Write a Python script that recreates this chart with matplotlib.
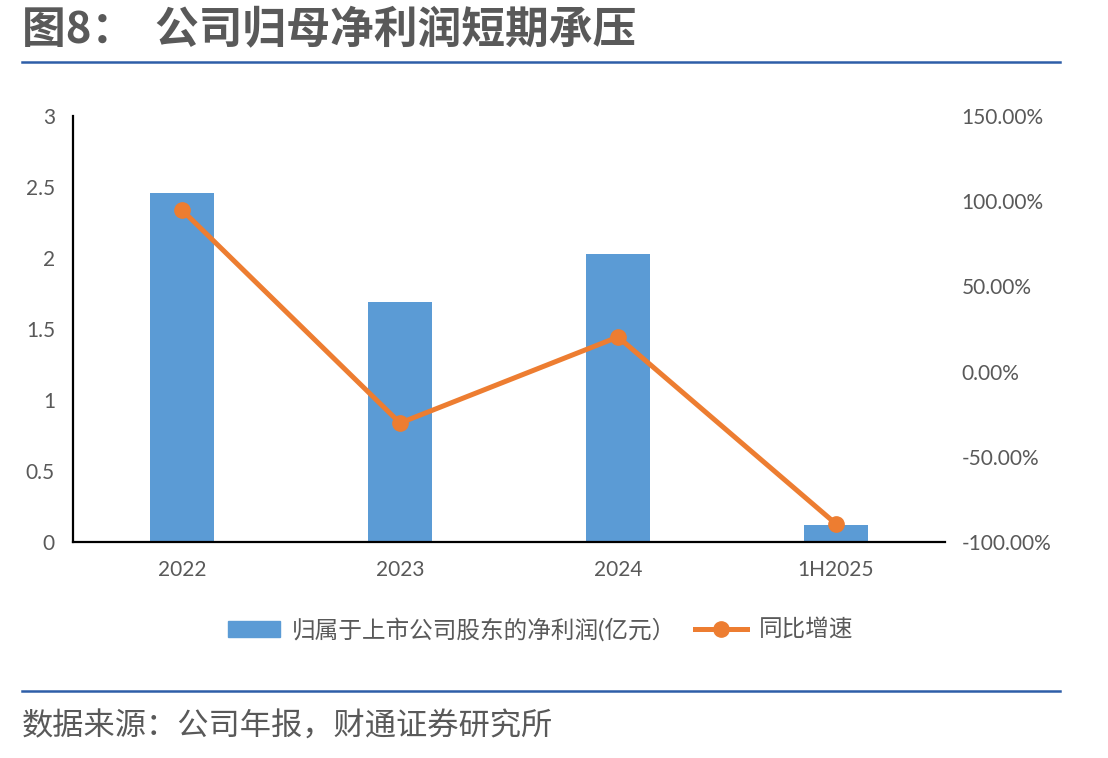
import matplotlib.pyplot as plt
import numpy as np
from matplotlib.lines import Line2D
from matplotlib.patches import Patch

plt.rcParams['font.family'] = ['Lato', 'Noto Sans CJK SC', 'DejaVu Sans']

# data
categories = ['2022', '2023', '2024', '1H2025']
profit = [2.46, 1.69, 2.03, 0.12]          # 归属于上市公司股东的净利润(亿元)
growth = [94.8, -30.2, 20.3, -89.4]        # 同比增速, %

left_ticks = [0, 0.5, 1, 1.5, 2, 2.5, 3]
left_labels = ['0', '0.5', '1', '1.5', '2', '2.5', '3']
right_ticks = [-100, -50, 0, 50, 100, 150]

gray = '#595959'
blue = '#5B9BD5'
orange = '#ED7D31'
rule = '#2E5EA8'

fig = plt.figure(figsize=(11.08, 7.58), dpi=100)
ax = fig.add_axes([0.0659, 0.2850, 0.7870, 0.5620])

x = np.arange(len(categories))
ax.bar(x, profit, width=0.29, color=blue, zorder=2)
ax.set_xlim(-0.5, len(categories) - 0.5)
ax.set_ylim(0, 3)
ax.set_yticks(left_ticks)
ax.set_yticklabels(left_labels)
ax.set_xticks(x)
ax.set_xticklabels(categories)
ax.tick_params(axis='y', length=0, pad=13, labelsize=15, labelcolor=gray)
ax.tick_params(axis='x', length=0, pad=13, labelsize=15, labelcolor=gray)
for s in ['top', 'right']:
    ax.spines[s].set_visible(False)
for s in ['left', 'bottom']:
    ax.spines[s].set_linewidth(1.6)
    ax.spines[s].set_color('black')

ax2 = ax.twinx()
ax2.plot(x, growth, color=orange, lw=3.6, marker='o', ms=11, zorder=3)
ax2.set_ylim(-100, 150)
ax2.set_yticks(right_ticks)
ax2.set_yticklabels(['%.2f%%' % t for t in right_ticks])
ax2.tick_params(axis='y', length=0, pad=12, labelsize=15, labelcolor=gray)
for s in ['top', 'right', 'left', 'bottom']:
    ax2.spines[s].set_visible(False)

handles = [Patch(color=blue),
           Line2D([0], [0], color=orange, lw=3.6, marker='o', ms=11)]
labels = ['归属于上市公司股东的净利润(亿元）', '同比增速']
fig.legend(handles, labels, loc='center', bbox_to_anchor=(0.488, 0.170),
           ncol=2, frameon=False, fontsize=17, labelcolor=gray,
           handlelength=2.2, handletextpad=0.5, columnspacing=0.8)

# title, rules and source note
fig.text(0.020, 0.962, '图8：  公司归母净利润短期承压', fontsize=31.5, fontweight='bold',
         color=gray, ha='left', va='center', family=['Noto Sans CJK SC', 'DejaVu Sans'])
fig.add_artist(Line2D([0.020, 0.957], [0.918, 0.918], color=rule, lw=1.8))
fig.add_artist(Line2D([0.020, 0.957], [0.088, 0.088], color=rule, lw=1.8))
fig.text(0.020, 0.041, '数据来源：公司年报，财通证券研究所', fontsize=22.5,
         color=gray, ha='left', va='center', family=['Noto Sans CJK SC', 'DejaVu Sans'])

fig.savefig('out.png', dpi=100)
